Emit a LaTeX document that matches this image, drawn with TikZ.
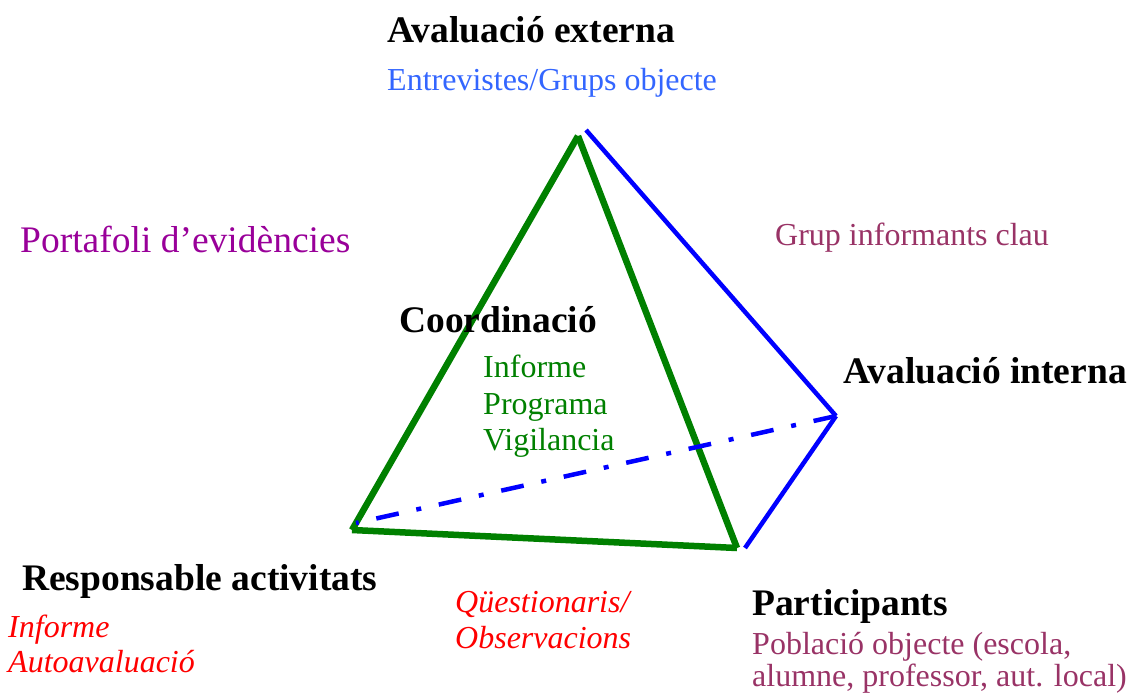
\documentclass[tikz,border=0pt]{standalone}
\usepackage{fontspec}
\setmainfont{Liberation Serif}
\definecolor{entblue}{RGB}{51,102,255}
\definecolor{portpurple}{RGB}{153,0,153}
\definecolor{grupmaroon}{RGB}{153,51,102}
\definecolor{coordgreen}{RGB}{0,128,0}

\begin{document}
\begin{tikzpicture}
  [x=1pt,y=-1pt,every node/.style={anchor=base west,inner sep=0pt},
   title/.style={font=\fontsize{37.5}{37.5}\selectfont\bfseries},
   note/.style={font=\fontsize{32}{32}\selectfont},
   slant/.style={font=\fontsize{32}{32}\selectfont\itshape,red},
   green edge/.style={coordgreen,line width=6.5pt},
   blue edge/.style={blue,line width=4.5pt}]
  \useasboundingbox (0,0) rectangle (1131,693);
  % vertices
  \coordinate (top) at (578,136);
  \coordinate (topb) at (586,130);
  \coordinate (left) at (352,530);
  \coordinate (right) at (737,548);
  \coordinate (rightb) at (745,548);
  \coordinate (back) at (836,416);
  \coordinate (leftb) at (356,523);
  \foreach \from/\to in {left/top,top/right,left/right}
    \draw [green edge] (\from) -- (\to);
  \foreach \from/\to in {topb/back,back/rightb}
    \draw [blue edge] (\from) -- (\to);
  \draw [blue edge,dash pattern=on 23pt off 18pt on 5pt off 18pt] (back) -- (leftb);
  % labels
  \node [title] (ext) at (387,42) {Avaluació externa};
  \node [note,entblue] (entr) at (387,90) {Entrevistes/Grups objecte};
  \node [note,portpurple,font=\fontsize{37.5}{37.5}\selectfont] (port) at (20,252) {Portafoli d’evidències};
  \node [note,grupmaroon] (grup) at (775,245) {Grup informants clau};
  \node [title] (coord) at (399,332) {Coordinació};
  \foreach \txt [count=\i] in {Informe,Programa,Vigilancia}
    \node [note,coordgreen] (inf\i) at (483,341+36.5*\i) {\txt};
  \node [title] (int) at (843,383) {Avaluació interna};
  \node [title] (resp) at (22,590) {Responsable activitats};
  \node [slant] (auto1) at (8,637) {Informe};
  \node [slant] (auto2) at (8,672) {Autoavaluació};
  \node [slant] (qu1) at (455,612) {Qüestionaris/};
  \node [slant] (qu2) at (455,648) {Observacions};
  \node [title] (part) at (752,615) {Participants};
  \node [note,grupmaroon] (pob1) at (752,654) {Població objecte (escola,};
  \node [note,grupmaroon] (pob2) at (752,686) {alumne, professor, aut. local)};
\end{tikzpicture}
\end{document}
